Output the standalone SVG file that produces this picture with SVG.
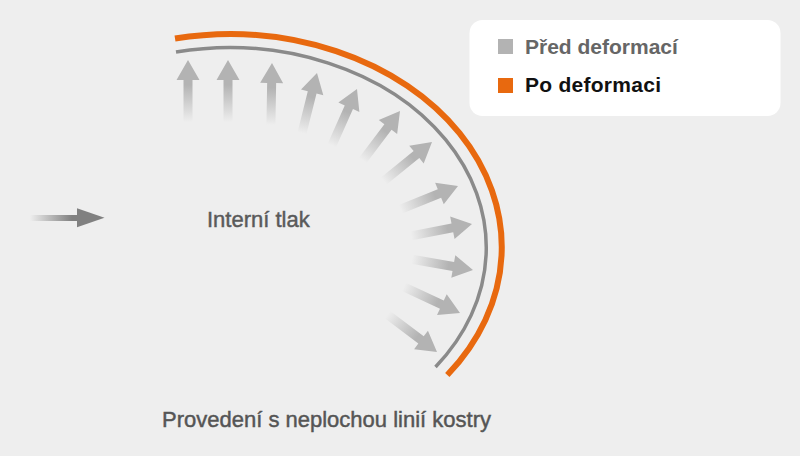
<svg xmlns="http://www.w3.org/2000/svg" xmlns:xlink="http://www.w3.org/1999/xlink" width="800" height="456" viewBox="0 0 800 456">
  <defs>
    <linearGradient id="ag" x1="0" y1="0" x2="1" y2="0">
      <stop offset="0" stop-color="#b3b3b3" stop-opacity="0"/>
      <stop offset="0.6" stop-color="#b3b3b3" stop-opacity="1"/>
      <stop offset="1" stop-color="#b3b3b3" stop-opacity="1"/>
    </linearGradient>
    <linearGradient id="lg" gradientUnits="userSpaceOnUse" x1="30" y1="0" x2="72" y2="0">
      <stop offset="0" stop-color="#808080" stop-opacity="0"/>
      <stop offset="1" stop-color="#808080" stop-opacity="1"/>
    </linearGradient>
    <path id="arr" d="M-62,-4.5 L-20,-4.5 L-20,-11.5 L0,0 L-20,11.5 L-20,4.5 L-62,4.5 Z" fill="url(#ag)"/>
    <style>
      .lbl { font-family: "Liberation Sans", Arial, sans-serif; }
      .med { stroke-width: 0.45; }
      .arc { fill: none; stroke-linecap: butt; }
    </style>
  </defs>
  <rect width="800" height="456" fill="#eeeeee"/>

  <g id="pressure-arrows">
    <use xlink:href="#arr" href="#arr" transform="translate(188,60) rotate(-90)"/>
    <use xlink:href="#arr" href="#arr" transform="translate(228,60) rotate(-90)"/>
    <use xlink:href="#arr" href="#arr" transform="translate(272,63) rotate(-89)"/>
    <use xlink:href="#arr" href="#arr" transform="translate(317,73) rotate(-76)"/>
    <use xlink:href="#arr" href="#arr" transform="translate(357,89) rotate(-66)"/>
    <use xlink:href="#arr" href="#arr" transform="translate(400,111) rotate(-53)"/>
    <use xlink:href="#arr" href="#arr" transform="translate(432,142) rotate(-39)"/>
    <use xlink:href="#arr" href="#arr" transform="translate(458,186) rotate(-22)"/>
    <use xlink:href="#arr" href="#arr" transform="translate(472,224) rotate(-11)"/>
    <use xlink:href="#arr" href="#arr" transform="translate(473,270) rotate(10)"/>
    <use xlink:href="#arr" href="#arr" transform="translate(460,313) rotate(25)"/>
    <use xlink:href="#arr" href="#arr" transform="translate(437,352) rotate(37)"/>
  </g>

  <g id="arc-before">
    <path class="arc" d="M176,52 A257,200 0 0 1 435.5,367" stroke="#8a8a8a" stroke-width="3.5"/>
  </g>
  <g id="arc-after">
    <path class="arc" d="M175,38.5 A272,213 0 0 1 447.3,375" stroke="#e8690f" stroke-width="6"/>
  </g>

  <g id="input-arrow">
    <rect x="30" y="215" width="50" height="6" fill="url(#lg)"/>
    <path d="M77,208.3 L104.5,217.8 L77,227.3 Z" fill="#808080"/>
  </g>

  <g id="label-internal">
    <text class="lbl med" x="207" y="227" font-size="22" fill="#5a5a5a" stroke="#5a5a5a">Interní tlak</text>
  </g>

  <g id="caption">
    <text class="lbl med" x="162" y="427" font-size="22" fill="#555555" stroke="#555555">Provedení s neplochou linií kostry</text>
  </g>

  <g id="legend">
    <rect x="469.5" y="20" width="311" height="96" rx="13" fill="#ffffff"/>
    <rect x="498" y="39" width="15" height="15" fill="#b3b3b3"/>
    <text class="lbl" x="525" y="53.5" font-size="21" font-weight="bold" fill="#666666">Před deformací</text>
    <rect x="498" y="78" width="15" height="15" fill="#e8690f"/>
    <text class="lbl" x="525" y="92" font-size="21" font-weight="bold" fill="#111111" textLength="136">Po deformaci</text>
  </g>
</svg>
